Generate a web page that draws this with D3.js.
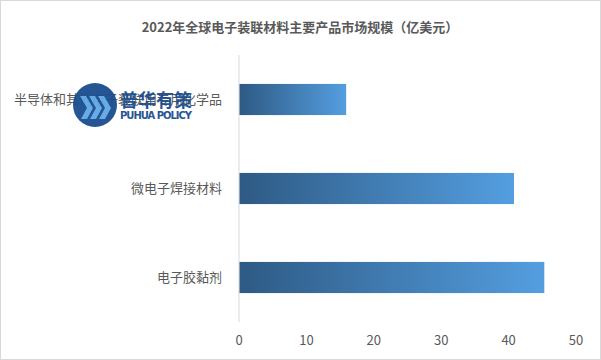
<!DOCTYPE html>
<html><head><meta charset="utf-8">
<script src="https://cdn.jsdelivr.net/npm/d3@7/dist/d3.min.js"></script>
<style>body{margin:0;background:#fff;}svg{display:block;font-family:"Microsoft YaHei","Noto Sans CJK SC",sans-serif;}</style>
</head><body>
<svg id="c" width="601" height="360"></svg>
<script>
const title = "2022年全球电子装联材料主要产品市场规模（亿美元）";
const categories = ["半导体和其他电子装联用专用化学品", "微电子焊接材料", "电子胶黏剂"];
const values = [15.9, 40.8, 45.3];
const xTicks = [0, 10, 20, 30, 40, 50];

const svg = d3.select("#c");
const W = 601, H = 360;
const m = {left: 239, right: 25, top: 55, bottom: 38};

svg.append("rect").attr("x",0.5).attr("y",0.5).attr("width",W-1).attr("height",H-1)
  .attr("fill","#fff").attr("stroke","#d9d9d9");

const defs = svg.append("defs");
const g = defs.append("linearGradient").attr("id","bg").attr("x1","0%").attr("x2","100%").attr("y1","0").attr("y2","0");
g.append("stop").attr("offset","0%").attr("stop-color","#2e5a84");
g.append("stop").attr("offset","100%").attr("stop-color","#549ee0");

svg.append("text").attr("x",300).attr("y",32).attr("text-anchor","middle")
  .attr("font-size",13).attr("font-weight","bold").attr("fill","#595959").text(title);

const x = d3.scaleLinear().domain([0,50]).range([m.left, W-m.right]);
const y = d3.scaleBand().domain(categories).range([m.top, H-m.bottom]).paddingInner(0.65).paddingOuter(0.325);

svg.append("line").attr("x1",x(0)).attr("x2",x(0)).attr("y1",m.top).attr("y2",H-m.bottom)
  .attr("stroke","#d9d9d9");

svg.selectAll("rect.bar").data(categories).enter().append("rect").attr("class","bar")
  .attr("x",x(0)+0.5).attr("y",d=>y(d)).attr("height",y.bandwidth())
  .attr("width",(d,i)=>x(values[i])-x(0)-0.5).attr("fill","url(#bg)");

svg.selectAll("text.cat").data(categories).enter().append("text").attr("class","cat")
  .attr("x",x(0)-17).attr("y",d=>y(d)+y.bandwidth()/2).attr("dy","0.35em")
  .attr("text-anchor","end").attr("font-size",13).attr("fill","#595959").text(d=>d);

svg.selectAll("text.tick").data(xTicks).enter().append("text").attr("class","tick")
  .attr("x",d=>x(d)).attr("y",345).attr("text-anchor","middle")
  .attr("font-size",13).attr("fill","#595959").text(d=>d);

// watermark logo
const logo = svg.append("g").attr("opacity",0.95);
logo.append("circle").attr("cx",95).attr("cy",105).attr("r",22).attr("fill","#1a4e8e");
[0,1,2].forEach(i=>{
  const ox = 80 + i*9;
  logo.append("path").attr("d",`M${ox},96 L${ox+6},96 L${ox+13},108 L${ox+7},119 L${ox+1},119 L${ox+7},108 Z`)
    .attr("fill","#5fa8e6");
});
logo.append("text").attr("x",120).attr("y",107).attr("font-size",18).attr("font-weight","bold")
  .attr("fill","#1a4e8e").attr("textLength",72).text("普华有策");
logo.append("text").attr("x",120).attr("y",119).attr("font-size",10).attr("font-weight","bold")
  .attr("fill","#1a4e8e").attr("font-family","DejaVu Sans, sans-serif").attr("textLength",72).text("PUHUA POLICY");
</script>
</body></html>
